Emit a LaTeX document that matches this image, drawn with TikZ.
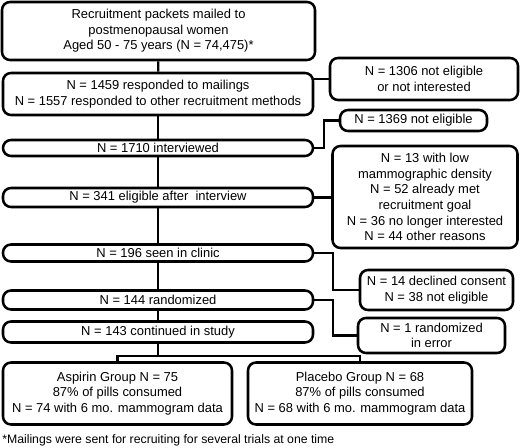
\documentclass[tikz,border=0pt]{standalone}
\usepackage{fontspec}
\setmainfont{Liberation Sans}
\usetikzlibrary{positioning}

\begin{document}
\begin{tikzpicture}[
  x=0.75pt, y=-0.75pt,
  every node/.style={font=\fontsize{9.7}{11.7}\selectfont},
  box/.style={draw, line width=1.9pt, rounded corners=6pt, align=center, inner sep=1pt},
  size/.style 2 args={minimum width=#1*0.75pt, minimum height=#2*0.75pt},
  link/.style={line width=1.7pt}
]
  \useasboundingbox (0,0) rectangle (520,448);

  % main column
  \node[box, size={313}{58}] (mailed) at (158.5,31) {Recruitment packets mailed to\\postmenopausal women\\Aged 50 - 75 years (N = 74,475)*};
  \node[box, size={310}{42}] (respond) at (158,94) {N = 1459 responded to mailings\\N = 1557 responded to other recruitment methods};
  \node[box, size={310}{16}] (interv) at (158,148) {N = 1710 interviewed};
  \node[box, size={310}{19}] (elig) at (158,197.5) {N = 341 eligible after\ \ interview};
  \node[box, size={310}{17}] (clinic) at (158,253) {N = 196 seen in clinic};
  \node[box, size={310}{19}] (random) at (158,300) {N = 144 randomized};
  \node[box, size={310}{21}] (contin) at (158,332) {N = 143 continued in study};
  \node[box, size={229}{62}] (aspirin) at (117.5,393.5) {Aspirin Group N = 75\\87\% of pills consumed\\N = 74 with 6 mo. mammogram data};
  \node[box, size={224}{62}] (placebo) at (360,393.5) {Placebo Group N = 68\\87\% of pills consumed\\N = 68 with 6 mo. mammogram data};

  % exclusions
  \node[box, size={188}{42}] (notint) at (424,79) {N = 1306 not eligible\\or not interested};
  \node[box, size={147}{21}] (notelig) at (413.5,120.5) {N = 1369 not eligible};
  \node[box, size={185}{102}] (reasons) at (425,197) {N = 13 with low\\mammographic density\\N = 52 already met\\recruitment goal\\N = 36 no longer interested\\N = 44 other reasons};
  \node[box, size={153}{40}] (declined) at (436.5,290) {N = 14 declined consent\\N = 38 not eligible};
  \node[box, size={147}{35}] (error) at (431.5,335.5) {N = 1 randomized\\in error};

  \node[anchor=west, inner sep=0pt, font=\fontsize{9.2}{11}\selectfont] (note) at (2,440) {*Mailings were sent for recruiting for several trials at one time};

  \draw[link] (mailed) -- (respond);
  \draw[link] (respond) -- (interv);
  \draw[link] (interv) -- (elig);
  \draw[link] (elig) -- (clinic);
  \draw[link] (clinic) -- (random);
  \draw[link] (random) -- (contin);

  \draw[link] (notint.west -| respond.east) -- (notint.west);
  \draw[link] (interv.east) -- ++(10,0) |- (notelig.west);
  \draw[link] (elig.east) -- (elig.east -| reasons.west);
  \draw[link] (clinic.east) -- ++(19,0) |- (declined.west);
  \draw[link] (random.east) -- ++(19,0) |- (error.west);

  \draw[link] (contin.south) -- ++(0,12) coordinate (split);
  \draw[link] (aspirin.north) |- (split) -| (placebo.north);
\end{tikzpicture}
\end{document}
